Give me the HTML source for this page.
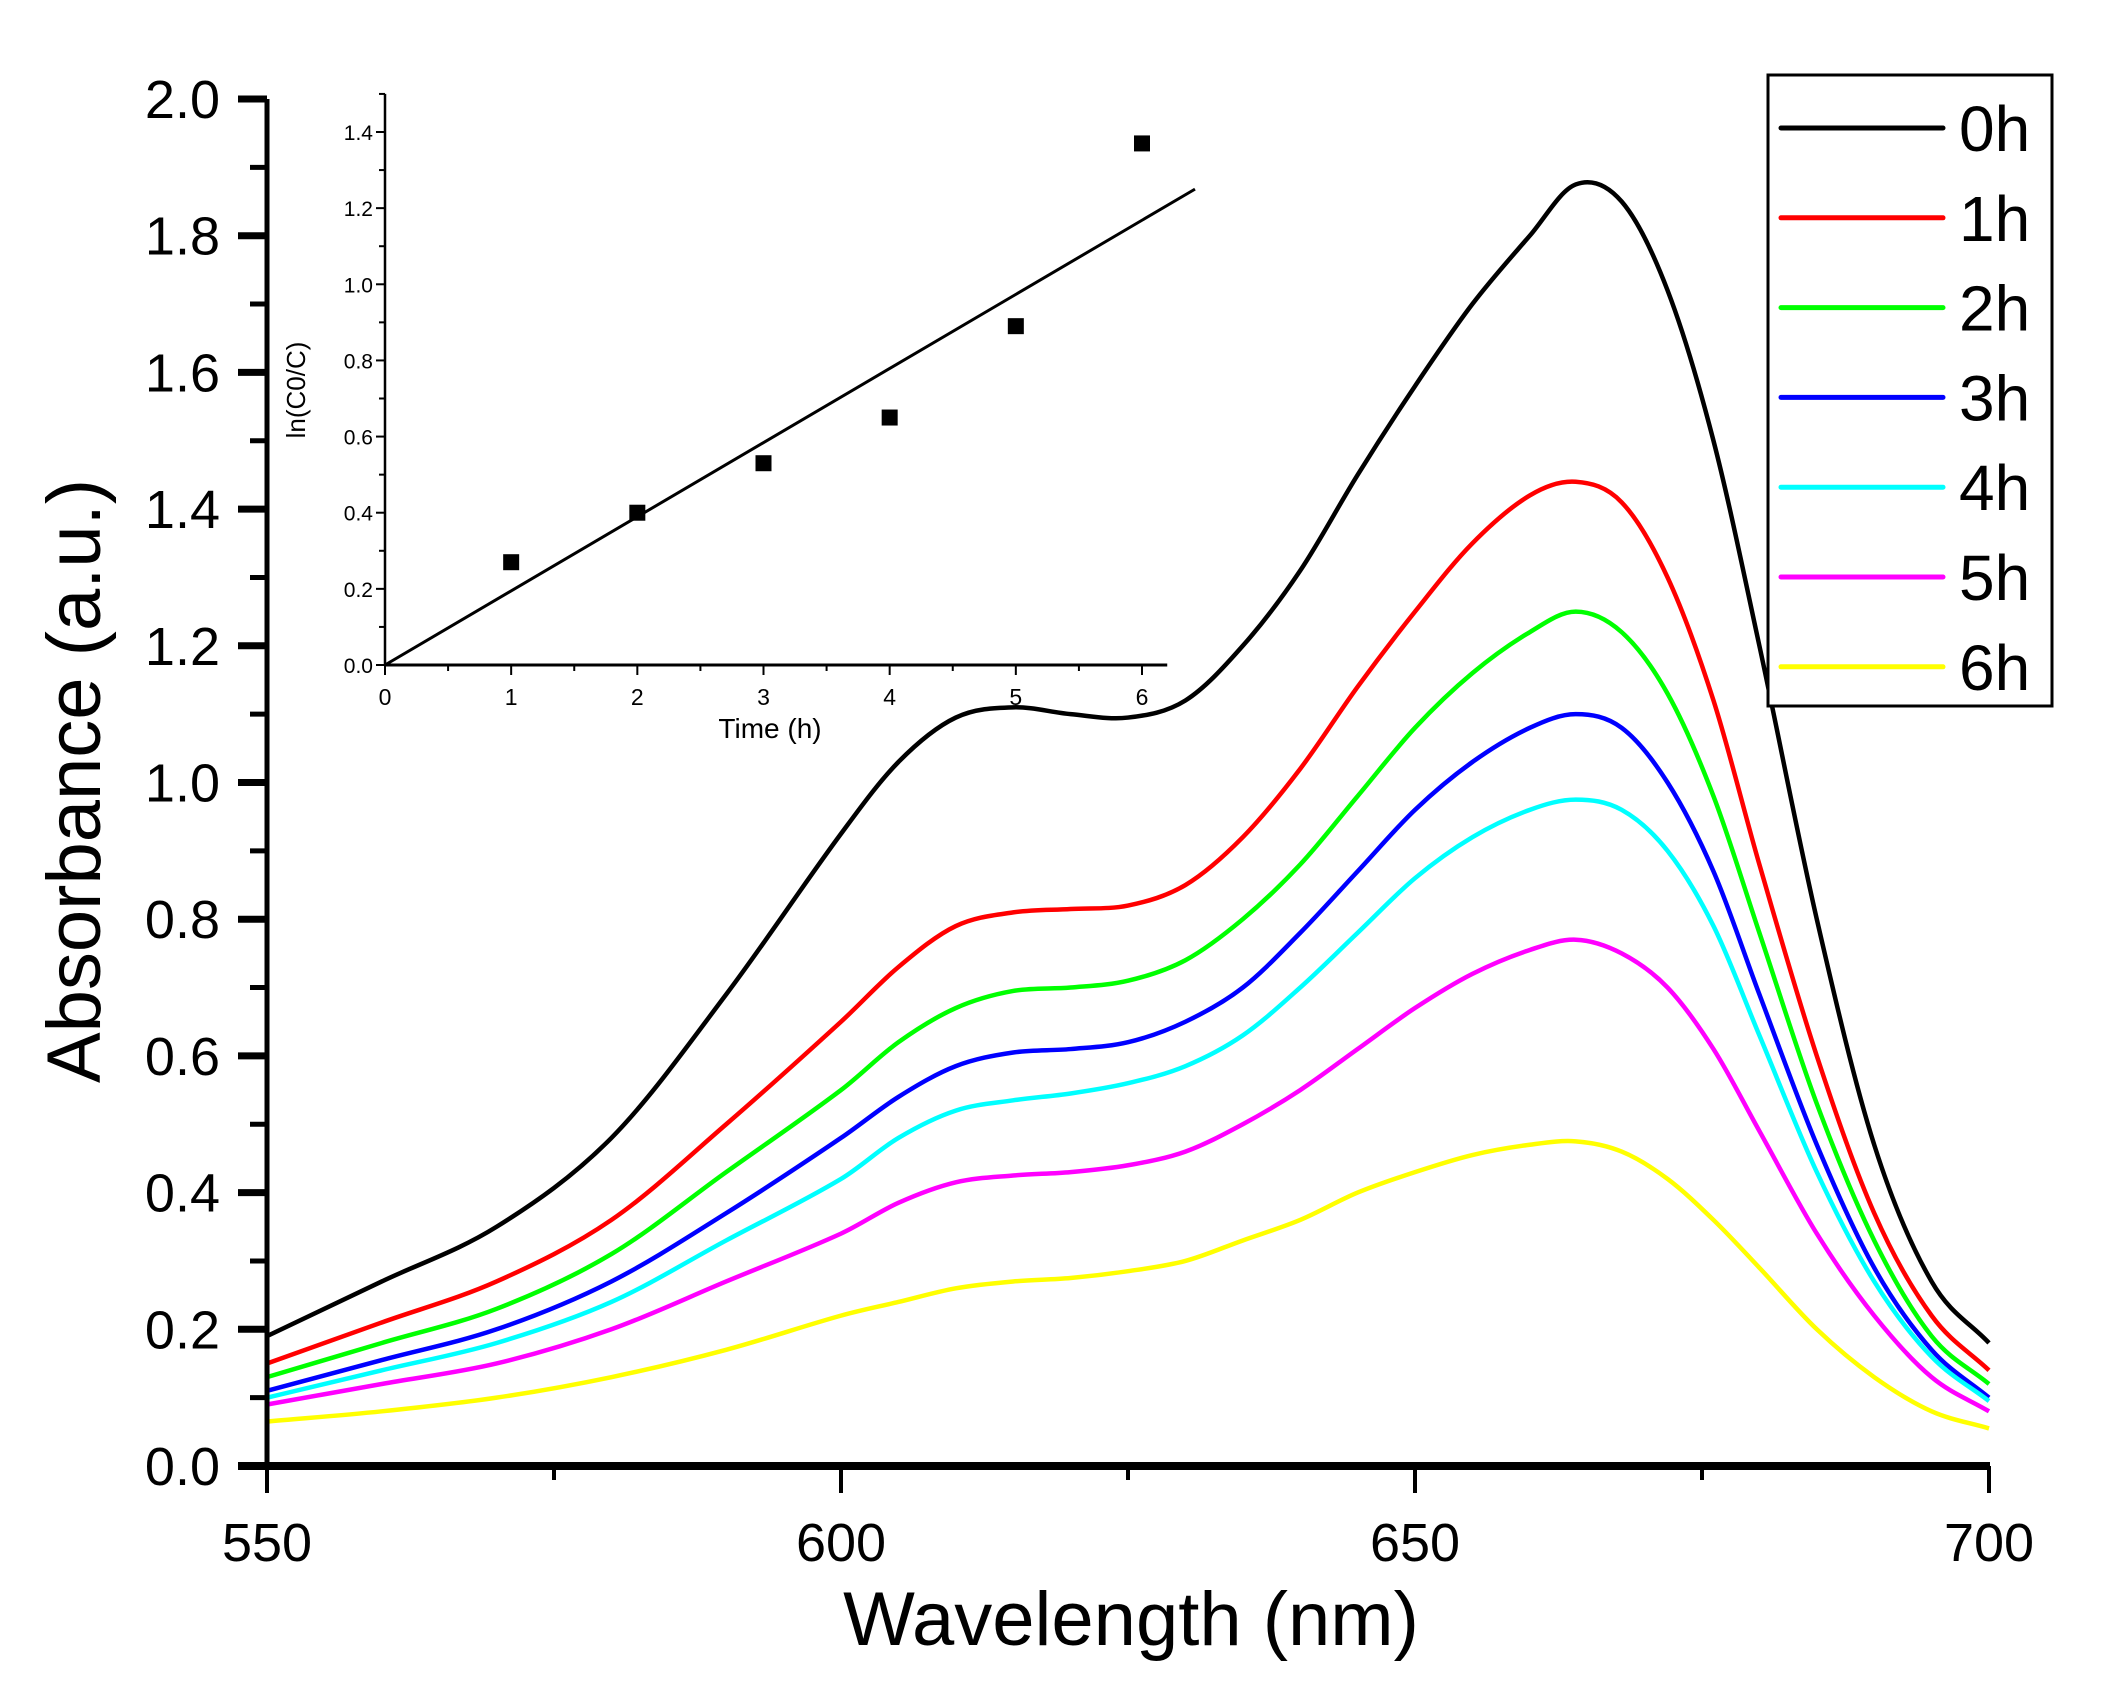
<!DOCTYPE html>
<html><head><meta charset="utf-8"><style>
html,body{margin:0;padding:0;background:#fff;}
svg{display:block;font-family:"Liberation Sans",Arial,sans-serif;}
</style></head><body>
<svg id="chart" width="2102" height="1684" viewBox="0 0 2102 1684" xmlns="http://www.w3.org/2000/svg">
<g id="main"></g><g id="inset"></g><g id="legend"></g>
</svg>
<script>
const wavelengths=[550,560,570,580,590,600,605,610,615,620,625,630,635,640,645,650,655,660,664,668,672,676,680,685,690,695,700];
const seriesLabels=["0h","1h","2h","3h","4h","5h","6h"];
const seriesColors=["#000000","#ff0000","#00ff00","#0000ff","#00ffff","#ff00ff","#ffff00"];
const s0=[0.19,0.27,0.35,0.48,0.69,0.925,1.03,1.095,1.11,1.10,1.095,1.12,1.20,1.31,1.45,1.58,1.70,1.80,1.875,1.85,1.72,1.50,1.20,0.80,0.47,0.27,0.18];
const s1=[0.15,0.21,0.27,0.36,0.50,0.65,0.73,0.79,0.81,0.815,0.82,0.85,0.92,1.02,1.14,1.25,1.35,1.42,1.44,1.41,1.30,1.12,0.88,0.60,0.37,0.22,0.14];
const s2=[0.13,0.18,0.23,0.31,0.43,0.55,0.62,0.67,0.695,0.70,0.71,0.74,0.80,0.88,0.98,1.08,1.16,1.22,1.25,1.22,1.13,0.98,0.78,0.53,0.33,0.19,0.12];
const s3=[0.11,0.155,0.20,0.27,0.37,0.48,0.54,0.585,0.605,0.61,0.62,0.65,0.70,0.78,0.87,0.96,1.03,1.08,1.10,1.08,1.00,0.87,0.69,0.47,0.29,0.17,0.10];
const s4=[0.10,0.14,0.18,0.24,0.33,0.42,0.48,0.52,0.535,0.545,0.56,0.585,0.63,0.70,0.78,0.86,0.92,0.96,0.975,0.96,0.90,0.79,0.63,0.43,0.27,0.16,0.095];
const s5=[0.09,0.12,0.15,0.20,0.27,0.34,0.385,0.415,0.425,0.43,0.44,0.46,0.50,0.55,0.61,0.67,0.72,0.755,0.77,0.75,0.70,0.61,0.49,0.34,0.22,0.13,0.08];
const s6=[0.065,0.08,0.10,0.13,0.17,0.22,0.24,0.26,0.27,0.275,0.285,0.30,0.33,0.36,0.40,0.43,0.455,0.47,0.475,0.46,0.42,0.36,0.29,0.20,0.13,0.08,0.055];
const xTicks=[550,600,650,700];
const yTicks=[0.0,0.2,0.4,0.6,0.8,1.0,1.2,1.4,1.6,1.8,2.0];
const insetTimes=[1,2,3,4,5,6];
const insetValues=[0.27,0.40,0.53,0.65,0.89,1.37];
const insetFit=[[0,0],[6.42,1.25]];
const insetXTicks=[0,1,2,3,4,5,6];
const insetYTicks=[0.0,0.2,0.4,0.6,0.8,1.0,1.2,1.4];

const NS="http://www.w3.org/2000/svg";
function mk(parent,tag,attrs,text){const e=document.createElementNS(NS,tag);for(const k in attrs)e.setAttribute(k,attrs[k]);if(text!==undefined)e.textContent=text;parent.appendChild(e);return e;}
const X=w=>267+(w-550)*(1989-267)/150;
const Y=v=>1466-v*683.5;
const main=document.getElementById('main');

const series=[s0,s1,s2,s3,s4,s5,s6];
series.forEach((s,i)=>{
  const pts=wavelengths.map((w,j)=>[X(w),Y(s[j])]);
  let d="M"+pts[0][0]+","+pts[0][1];
  for(let j=0;j<pts.length-1;j++){
    const p0=pts[Math.max(0,j-1)],p1=pts[j],p2=pts[j+1],p3=pts[Math.min(pts.length-1,j+2)];
    const h=p2[0]-p1[0];
    const m1=(p2[1]-p0[1])/(p2[0]-p0[0]||1), m2=(p3[1]-p1[1])/(p3[0]-p1[0]||1);
    const c1=[p1[0]+h/3,p1[1]+m1*h/3];
    const c2=[p2[0]-h/3,p2[1]-m2*h/3];
    d+=" C"+c1[0]+","+c1[1]+" "+c2[0]+","+c2[1]+" "+p2[0]+","+p2[1];
  }
  const p=mk(main,'path',{d:d,fill:'none',stroke:seriesColors[i],'stroke-width':4.5,'stroke-linejoin':'round'});
  
  
});

const ya=mk(main,'line',{x1:267,y1:Y(2),x2:267,y2:1468,stroke:'#000','stroke-width':5});

const xa=mk(main,'line',{x1:238,y1:1466,x2:1990,y2:1466,stroke:'#000','stroke-width':8});

for(let k=0;k<=20;k++){
  const v=k*0.1, major=k%2===0;
  mk(main,'line',{x1:major?238:250,y1:Y(v),x2:267,y2:Y(v),stroke:'#000','stroke-width':major?7:5});
}
yTicks.forEach(v=>{
  const t=mk(main,'text',{x:220,y:Y(v)+19,'text-anchor':'end','font-size':54},v.toFixed(1));
  
});
[550,575,600,625,650,675,700].forEach(w=>{
  const major=w%50===0;
  mk(main,'line',{x1:X(w),y1:1466,x2:X(w),y2:major?1493:1480,stroke:'#000','stroke-width':4});
});
xTicks.forEach(w=>{
  const t=mk(main,'text',{x:X(w),y:1561,'text-anchor':'middle','font-size':54},String(w));
  
});
const xt=mk(main,'text',{x:1131,y:1645,'text-anchor':'middle','font-size':76},'Wavelength (nm)');

const yt=mk(main,'text',{x:0,y:0,'text-anchor':'middle','font-size':76,transform:'translate(100,781) rotate(-90)'},'Absorbance (a.u.)');


const inset=document.getElementById('inset');
const IX=t=>385+t*(1142-385)/6;
const IY=v=>665-v*(665-132)/1.4;
const iy=mk(inset,'line',{x1:IX(0),y1:IY(1.5),x2:IX(0),y2:IY(0),stroke:'#000','stroke-width':2.5});

const ix=mk(inset,'line',{x1:IX(0),y1:IY(0),x2:IX(6.2),y2:IY(0),stroke:'#000','stroke-width':3});

for(let k=0;k<=15;k++){const v=k*0.1;mk(inset,'line',{x1:IX(0)-(k%2===0?9:6),y1:IY(v),x2:IX(0),y2:IY(v),stroke:'#000','stroke-width':2});}
for(let k=0;k<=12;k++){const t=k*0.5;mk(inset,'line',{x1:IX(t),y1:IY(0),x2:IX(t),y2:IY(0)+(k%2===0?10:6),stroke:'#000','stroke-width':2});}
insetYTicks.forEach(v=>{
  const t=mk(inset,'text',{x:IX(0)-12,y:IY(v)+8,'text-anchor':'end','font-size':21},v.toFixed(1));
  
});
insetXTicks.forEach(v=>{
  const t=mk(inset,'text',{x:IX(v),y:IY(0)+40,'text-anchor':'middle','font-size':23},String(v));
  
});
const ixt=mk(inset,'text',{x:770,y:738,'text-anchor':'middle','font-size':28},'Time (h)');

const iyt=mk(inset,'text',{x:0,y:0,'text-anchor':'middle','font-size':26,transform:'translate(305,390) rotate(-90)'},'ln(C0/C)');

const fit=mk(inset,'line',{x1:IX(insetFit[0][0]),y1:IY(insetFit[0][1]),x2:IX(insetFit[1][0]),y2:IY(insetFit[1][1]),stroke:'#000','stroke-width':3});

insetTimes.forEach((t,i)=>{
  const r=mk(inset,'rect',{x:IX(t)-8,y:IY(insetValues[i])-8,width:16,height:16,fill:'#000'});
  
});

const lg=document.getElementById('legend');
const box=mk(lg,'rect',{x:1768,y:75,width:284,height:631,fill:'#fff',stroke:'#000','stroke-width':3});

seriesLabels.forEach((l,i)=>{
  const y=128+i*89.8;
  const ln=mk(lg,'line',{x1:1781,y1:y,x2:1943,y2:y,stroke:seriesColors[i],'stroke-width':5,'stroke-linecap':'round'});
  
  const t=mk(lg,'text',{x:1959,y:y+23,'font-size':64},l);
  
});
</script>
</body></html>
